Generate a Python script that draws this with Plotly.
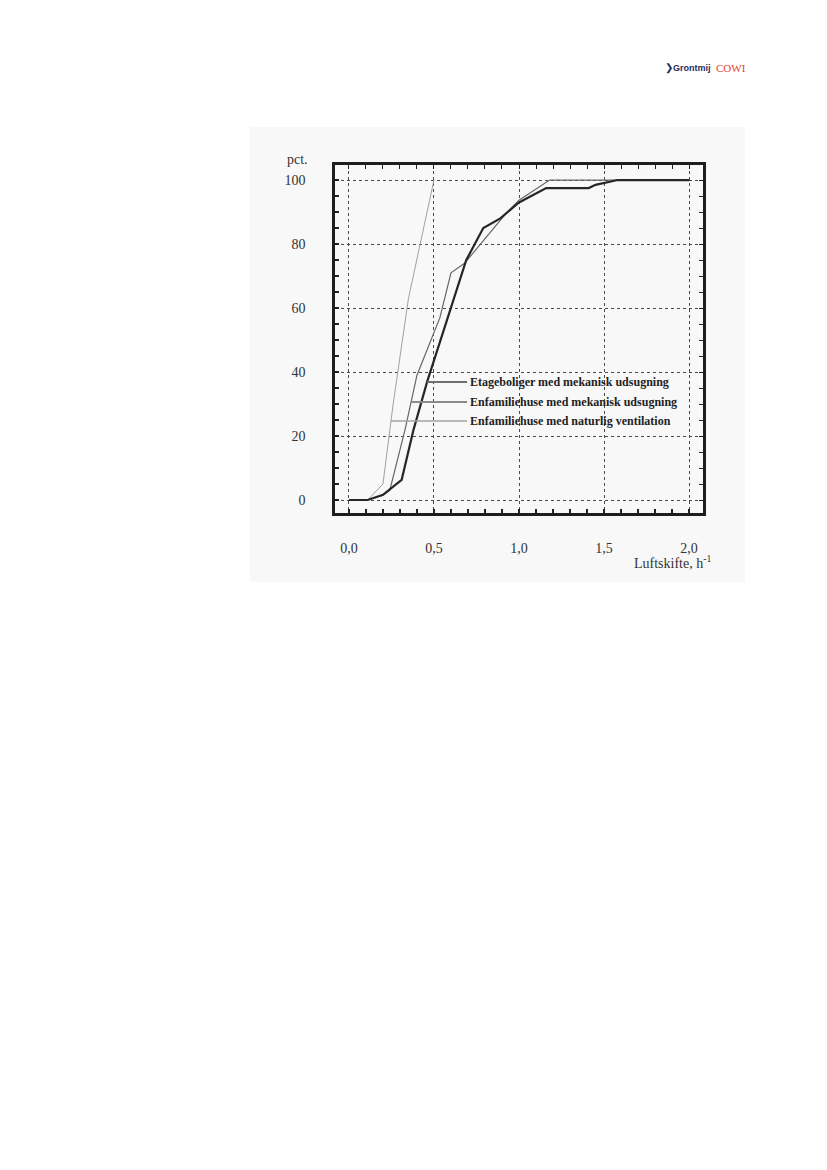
import numpy as np
import plotly.graph_objects as go

# ---------------- data ----------------
series_names = [
    "Etageboliger med mekanisk udsugning",
    "Enfamiliehuse med mekanisk udsugning",
    "Enfamiliehuse med naturlig ventilation",
]

etage_x = [0.0, 0.11, 0.20, 0.31, 0.38, 0.46, 0.575, 0.69, 0.79, 0.89, 1.00, 1.16, 1.41, 1.45, 1.58, 2.00]
etage_y = [0.0, 0.0, 1.6, 6.3, 22.0, 37.0, 56.0, 75.0, 85.0, 88.0, 93.0, 97.5, 97.5, 98.5, 100.0, 100.0]

enfam_mek_x = [0.0, 0.11, 0.20, 0.24, 0.33, 0.40, 0.535, 0.60, 0.68, 0.79, 0.93, 1.00, 1.18, 2.00]
enfam_mek_y = [0.0, 0.0, 1.5, 3.0, 22.0, 39.0, 57.0, 71.0, 74.0, 81.0, 90.0, 93.7, 100.0, 100.0]

enfam_nat_x = [0.0, 0.11, 0.20, 0.26, 0.35, 0.42, 0.50]
enfam_nat_y = [0.0, 0.0, 5.0, 30.0, 63.0, 80.0, 100.0]

x_tick_vals = [0.0, 0.5, 1.0, 1.5, 2.0]
x_tick_text = ["0,0", "0,5", "1,0", "1,5", "2,0"]
y_tick_vals = [0, 20, 40, 60, 80, 100]
y_tick_text = ["0", "20", "40", "60", "80", "100"]

leader_y = [36.9, 30.6, 24.7]   # where each legend leader meets its curve

# ---------------- styling ----------------
W, H = 827, 1170
OFF = 8  # page body margin in the browser
serif = "Liberation Serif, Times New Roman, serif"
line_styles = [
    dict(color="#262626", width=2.2),
    dict(color="#666666", width=1.2),
    dict(color="#a0a0a0", width=1.0),
]
xs = [etage_x, enfam_mek_x, enfam_nat_x]
ys = [etage_y, enfam_mek_y, enfam_nat_y]


def px(x):
    return (x - OFF) / W


def py(y):
    return 1 - (y - OFF) / H


# plot frame in pixels (page coordinates)
L, R, T, B = 335, 703, 165, 513
dom_x = [px(L), px(R)]
dom_y = [py(B), py(T)]
x_range = [-0.082, 2.082]
y_range = [-4.06, 104.7]

fig = go.Figure()

# draw lighter curves first so the thick one is on top
for i in [2, 1, 0]:
    fig.add_trace(go.Scatter(
        x=xs[i], y=ys[i], mode="lines", name=series_names[i],
        line=line_styles[i], showlegend=False, hoverinfo="skip",
    ))

axis_common = dict(
    showline=True, linecolor="#1e1e1e", linewidth=2.5, mirror=True,
    showgrid=True, gridcolor="#4a4a4a", gridwidth=1, griddash="dot",
    zeroline=False, ticks="inside", ticklen=4, tickcolor="#222", tickwidth=1.5,
    tickfont=dict(family=serif, size=14, color="#333"),
)

fig.update_layout(
    width=W, height=H,
    margin=dict(l=0, r=0, t=0, b=0),
    paper_bgcolor="white",
    plot_bgcolor="rgba(0,0,0,0)",
    showlegend=False,
    xaxis=dict(
        domain=dom_x, range=x_range, tickvals=x_tick_vals, ticktext=x_tick_text,
        ticklabelstandoff=20,
        minor=dict(dtick=0.1, tick0=0, ticks="inside", ticklen=4, tickcolor="#222", showgrid=False),
        **axis_common,
    ),
    yaxis=dict(
        domain=dom_y, range=y_range, tickvals=y_tick_vals, ticktext=y_tick_text,
        ticklabelstandoff=24,
        minor=dict(dtick=5, tick0=0, ticks="inside", ticklen=4, tickcolor="#222", showgrid=False),
        **axis_common,
    ),
    xaxis2=dict(
        domain=dom_x, range=x_range, overlaying="x", side="top", matches="x",
        showgrid=False, zeroline=False, showticklabels=False,
        tickvals=x_tick_vals, ticks="inside", ticklen=4, tickcolor="#222",
        minor=dict(dtick=0.1, tick0=0, ticks="inside", ticklen=4, tickcolor="#222"),
    ),
    yaxis2=dict(
        domain=dom_y, range=y_range, overlaying="y", side="right", matches="y",
        showgrid=False, zeroline=False, showticklabels=False, anchor="x",
        tickvals=y_tick_vals, ticks="inside", ticklen=4, tickcolor="#222",
        minor=dict(dtick=5, tick0=0, ticks="inside", ticklen=4, tickcolor="#222"),
    ),
)
# invisible trace to activate secondary axes
fig.add_trace(go.Scatter(x=[x_range[0]], y=[y_range[0]], xaxis="x2", yaxis="y2",
                         mode="markers", marker=dict(opacity=0), showlegend=False, hoverinfo="skip"))

# faint scan background
fig.add_shape(type="rect", xref="paper", yref="paper",
              x0=px(250), x1=px(745), y0=py(582), y1=py(127),
              fillcolor="#f8f8f8", line=dict(width=0), layer="below")

# legend: leader lines from curves to labels
label_x = 0.70
leader_colors = ["#6f6f6f", "#8a8a8a", "#a5a5a5"]
leader_widths = [2.0, 2.0, 1.5]
for i in range(3):
    yy = np.array(ys[i])
    xx = np.array(xs[i])
    mask = np.concatenate([[True], np.diff(yy) > 0])
    ax0 = float(np.interp(leader_y[i], yy[mask], xx[mask]))
    fig.add_shape(type="line", xref="x", yref="y",
                  x0=ax0, x1=label_x - 0.005, y0=leader_y[i], y1=leader_y[i],
                  line=dict(color=leader_colors[i], width=leader_widths[i]))
    fig.add_annotation(x=label_x, y=leader_y[i], xref="x", yref="y",
                       text="<b>" + series_names[i] + "</b>", showarrow=False,
                       xanchor="left", yanchor="middle",
                       font=dict(family=serif, size=12, color="#222"))

# axis titles
fig.add_annotation(x=px(297), y=py(160), xref="paper", yref="paper",
                   text="pct.", showarrow=False, xanchor="center", yanchor="middle",
                   font=dict(family=serif, size=14, color="#333"))
fig.add_annotation(x=px(713), y=py(562), xref="paper", yref="paper",
                   text="Luftskifte, h<sup>-1</sup>", showarrow=False,
                   xanchor="right", yanchor="middle",
                   font=dict(family=serif, size=14, color="#333"))

# header logo
fig.add_annotation(x=px(713), y=py(68), xref="paper", yref="paper",
                   text="<b>Grontmij</b>", showarrow=False, xanchor="right", yanchor="middle",
                   font=dict(family="Liberation Sans, Arial, sans-serif", size=9, color="#1c2b5a"))
fig.add_annotation(x=px(669), y=py(68), xref="paper", yref="paper",
                   text="<b>&#10095;</b>", showarrow=False, xanchor="center", yanchor="middle",
                   font=dict(family="DejaVu Sans", size=10, color="#1c2b5a"))
fig.add_annotation(x=px(714), y=py(68), xref="paper", yref="paper",
                   text="COWI", showarrow=False, xanchor="left", yanchor="middle",
                   font=dict(family=serif, size=11, color="#e2451f"))

fig.write_html("out.html")
